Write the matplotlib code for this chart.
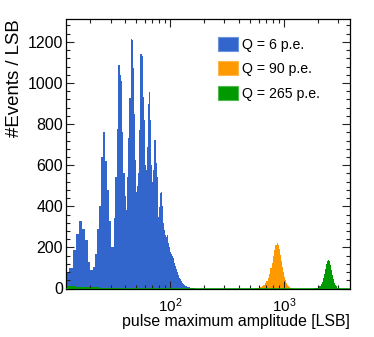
import numpy as np
import matplotlib

matplotlib.use("Agg")
import matplotlib.pyplot as plt
from matplotlib.patches import Patch
from matplotlib.ticker import LogLocator, MultipleLocator, NullFormatter

# colours (ROOT style)
BLUE = "#3366cc"
ORANGE = "#ff9900"
GREEN = "#009900"

LABELS = ["Q = 6 p.e.", "Q = 90 p.e.", "Q = 265 p.e."]

# Q = 6 p.e. : 1 LSB bins starting at 12 LSB
BLUE_FIRST = 12
BLUE_WIDTH = 1
BLUE_COUNTS = [
    75, 100, 185, 265, 330, 290, 235, 130, 88, 105,  # 12-21
    170, 290, 400, 640, 760, 620, 480, 330, 200, 200,  # 22-31
    343, 544, 775, 1088, 1040, 1010, 760, 560, 450, 380,  # 32-41
    544, 731, 925, 1213, 1210, 1071, 850, 625, 470, 500,  # 42-51
    560, 771, 982, 1140, 1141, 1131, 933, 820, 600, 495,  # 52-61
    577, 690, 900, 958, 893, 820, 600, 479, 520, 577,  # 62-71
    690, 723, 723, 660, 609, 544, 450, 349, 398, 420,  # 72-81
    463, 463, 470, 400, 333, 320, 285, 285, 270, 260,  # 82-91
    255, 252, 260, 250, 220, 210, 200, 195, 180, 175,  # 92-101
    170, 165, 160, 158, 155, 150, 140, 125, 115, 108,  # 102-111
    100, 95, 88, 82, 78, 72, 66, 60, 57, 52,  # 112-121
    48, 44, 41, 38, 35, 32, 29, 27, 25, 23,  # 122-131
    21, 19, 17, 16, 14, 13, 12, 11, 10, 9,  # 132-141
    8, 8, 7, 6, 6, 5, 5, 4, 4, 4,  # 142-151
    3, 3, 3, 2, 2, 2, 2, 1, 1, 1,  # 152-161
    1, 1, 1, 1,  # 162-165
]

# Q = 90 p.e. : 20 LSB bins
ORANGE_FIRST = 560
ORANGE_WIDTH = 20
ORANGE_COUNTS = [
    2, 3, 5, 8, 12, 18, 27, 38, 53, 72,
    98, 125, 158, 185, 212, 222, 210, 190, 162, 135,
    105, 80, 58, 40, 27, 17, 10, 6, 4, 2,
    1, 1,
]

# Q = 265 p.e. : 50 LSB bins
GREEN_FIRST = 1850
GREEN_WIDTH = 50
GREEN_COUNTS = [
    1, 2, 4, 7, 12, 20, 32, 50, 72, 96,
    118, 134, 139, 132, 115, 92, 68, 46, 29, 17,
    10, 5, 3, 1, 1,
]

# Q = 265 p.e. : small low-amplitude part, 1 LSB bins
GREEN_LOW_FIRST = 12
GREEN_LOW_COUNTS = [12, 11, 10, 9, 9, 8, 7, 7, 6, 6, 5, 5, 4, 4, 4, 3, 3, 3, 2, 2, 2, 2, 1, 1]

X_MIN, X_MAX = 12.2, 3800
Y_MAX = 1310


def edges(first, width, n):
    return first + width * np.arange(n + 1)


def main() -> None:
    plt.rcParams.update(
        {
            "font.family": ["Liberation Sans", "DejaVu Sans"],
            "mathtext.fontset": "custom",
            "mathtext.rm": "Liberation Sans",
            "font.size": 11,
            "axes.linewidth": 0.9,
        }
    )

    fig = plt.figure(figsize=(3.74, 3.37), dpi=100)
    ax = fig.add_axes([66 / 374, 1 - 288.5 / 337, 284 / 374, 269.2 / 337])

    ax.stairs(BLUE_COUNTS, edges(BLUE_FIRST, BLUE_WIDTH, len(BLUE_COUNTS)),
              fill=True, color=BLUE, lw=0)
    ax.stairs(ORANGE_COUNTS, edges(ORANGE_FIRST, ORANGE_WIDTH, len(ORANGE_COUNTS)),
              fill=True, color=ORANGE, lw=0)
    ax.stairs(GREEN_COUNTS, edges(GREEN_FIRST, GREEN_WIDTH, len(GREEN_COUNTS)),
              fill=True, color=GREEN, lw=0)
    ax.stairs(GREEN_LOW_COUNTS, edges(GREEN_LOW_FIRST, 1, len(GREEN_LOW_COUNTS)),
              fill=True, color=GREEN, lw=0)
    ax.axhline(0, color=GREEN, lw=1.2, zorder=3)

    ax.set_xscale("log")
    ax.set_xlim(X_MIN, X_MAX)
    ax.set_ylim(0, Y_MAX)

    ax.xaxis.set_major_locator(LogLocator(base=10))
    ax.xaxis.set_minor_locator(LogLocator(base=10, subs=np.arange(2, 10)))
    ax.xaxis.set_minor_formatter(NullFormatter())
    ax.yaxis.set_major_locator(MultipleLocator(200))
    ax.yaxis.set_minor_locator(MultipleLocator(40))

    ax.tick_params(axis="both", which="both", direction="in", top=True, right=True,
                   width=0.8, colors="#222222", labelcolor="black")
    ax.tick_params(axis="both", which="major", length=5.8)
    ax.tick_params(axis="both", which="minor", length=2.9)
    ax.tick_params(axis="x", which="major", pad=5.6, labelsize=11)
    ax.tick_params(axis="y", which="major", pad=2, labelsize=11.5)

    ax.set_xlabel("pulse maximum amplitude [LSB]", fontsize=11.4, loc="right")
    ax.xaxis.set_label_coords(1.0, -0.093)
    ax.xaxis.label.set_va("top")
    ax.set_ylabel("#Events / LSB", fontsize=13.4, loc="top")
    ax.yaxis.set_label_coords(-0.15, 1.0)

    handles = [
        Patch(facecolor=BLUE, edgecolor="#6b93dd", lw=0.8),
        Patch(facecolor=ORANGE, edgecolor="#ffb74d", lw=0.8),
        Patch(facecolor=GREEN, edgecolor="#4db84d", lw=0.8),
    ]
    ax.legend(handles, LABELS, loc="upper left", bbox_to_anchor=(0.536, 0.935),
              frameon=False, fontsize=10.2, borderpad=0, borderaxespad=0,
              handlelength=1.37, handleheight=1.15, handletextpad=0.3,
              labelspacing=0.68)

    fig.savefig("out.png", dpi=100)
    plt.close(fig)


if __name__ == "__main__":
    main()
